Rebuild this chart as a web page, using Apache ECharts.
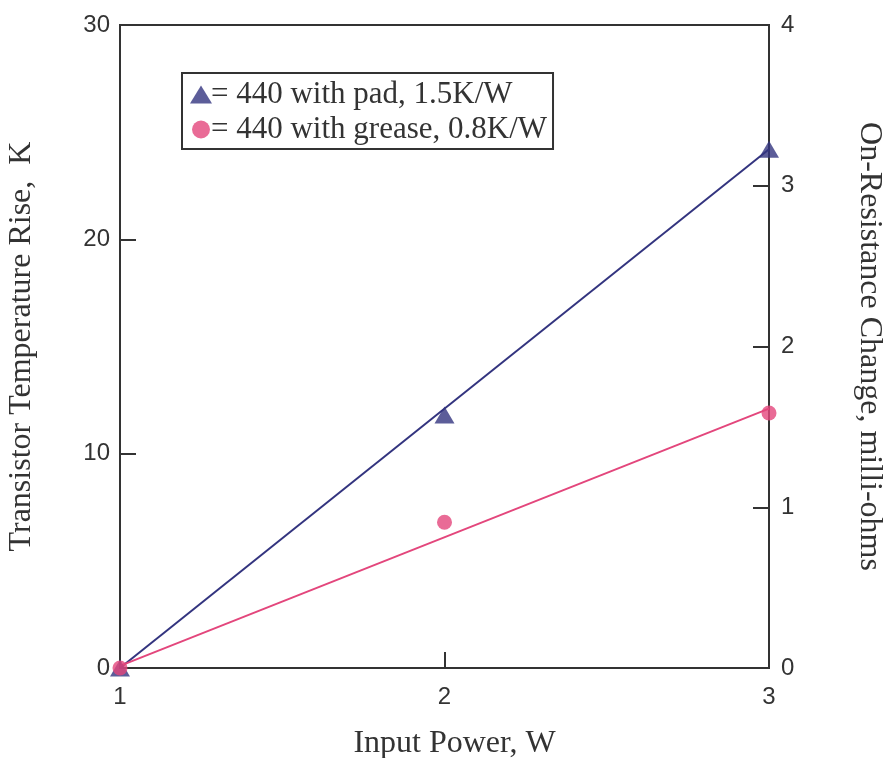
<!DOCTYPE html>
<html>
<head>
<meta charset="utf-8">
<script src="https://cdn.jsdelivr.net/npm/echarts@6/dist/echarts.min.js"></script>
<style>
  html, body { margin: 0; padding: 0; background: #fff; }
  #chart { width: 885px; height: 758px; }
</style>
</head>
<body>
<div id="chart"></div>
<script>
// input power, W
const power = [1, 2, 3];
// measured temperature rise, K
const padRise = [0, 11.8, 24.2];
const greaseRise = [0, 6.8, 11.9];
// fitted straight lines (end points)
const padFitX = [1, 3];
const padFitY = [0, 24.2];
const greaseFitX = [1, 3];
const greaseFitY = [0.1, 12.1];

const padColor = '#33347f';
const greaseColor = '#e3467c';

const chart = echarts.init(document.getElementById('chart'));

const option = {
  animation: false,
  grid: {
    left: 120, right: 116, top: 25, bottom: 90,
    outerBoundsMode: 'none', containLabel: false,
    show: true, borderColor: '#333', borderWidth: 2
  },
  legend: {
    orient: 'vertical',
    left: 182, top: 73,
    padding: [6, 6, 4, 8],
    itemGap: 4,
    itemWidth: 22, itemHeight: 18,
    borderColor: '#333', borderWidth: 2,
    textStyle: { fontFamily: 'Liberation Serif', fontSize: 31, color: '#333', padding: [0, 0, 0, -6] },
    formatter: name => '= ' + name,
    data: [
      { name: '440 with pad, 1.5K/W', icon: 'triangle' },
      { name: '440 with grease, 0.8K/W', icon: 'circle' }
    ]
  },
  xAxis: {
    type: 'value', min: 1, max: 3, interval: 1,
    name: 'Input Power, W', nameLocation: 'middle', nameGap: 60,
    nameTextStyle: { fontFamily: 'Liberation Serif', fontSize: 32, color: '#333', padding: [0, 0, 0, 20] },
    axisLine: { lineStyle: { color: '#333', width: 2 } },
    axisTick: { inside: true, length: 16, lineStyle: { color: '#333', width: 2 } },
    axisLabel: { fontFamily: 'Liberation Sans', fontSize: 24, color: '#333', margin: 17 },
    splitLine: { show: false }
  },
  yAxis: [
    {
      type: 'value', min: 0, max: 30, interval: 10,
      name: 'Transistor Temperature Rise,  K', nameLocation: 'middle', nameGap: 82,
      nameTextStyle: { fontFamily: 'Liberation Serif', fontSize: 32, color: '#333' },
      axisLine: { show: true, lineStyle: { color: '#333', width: 2 } },
      axisTick: { show: true, inside: true, length: 16, lineStyle: { color: '#333', width: 2 } },
      axisLabel: { fontFamily: 'Liberation Sans', fontSize: 24, color: '#333', margin: 10 },
      splitLine: { show: false }
    },
    {
      type: 'value', min: 0, max: 4, interval: 1, position: 'right',
      name: 'On-Resistance Change, milli-ohms', nameLocation: 'middle', nameGap: 84,
      nameRotate: -90,
      nameTextStyle: { fontFamily: 'Liberation Serif', fontSize: 32, color: '#333' },
      axisLine: { show: true, lineStyle: { color: '#333', width: 2 } },
      axisTick: { show: true, inside: true, length: 16, lineStyle: { color: '#333', width: 2 } },
      axisLabel: { fontFamily: 'Liberation Sans', fontSize: 24, color: '#333', margin: 12 },
      splitLine: { show: false }
    }
  ],
  series: [
    {
      name: 'padFit', type: 'line', symbol: 'none', silent: true,
      data: padFitX.map((x, i) => [x, padFitY[i]]),
      lineStyle: { color: padColor, width: 2 }, z: 2
    },
    {
      name: 'greaseFit', type: 'line', symbol: 'none', silent: true,
      data: greaseFitX.map((x, i) => [x, greaseFitY[i]]),
      lineStyle: { color: greaseColor, width: 2 }, z: 2
    },
    {
      name: '440 with pad, 1.5K/W', type: 'scatter', symbol: 'triangle', symbolSize: [20, 17],
      data: power.map((x, i) => [x, padRise[i]]),
      itemStyle: { color: padColor }, z: 3
    },
    {
      name: '440 with grease, 0.8K/W', type: 'scatter', symbol: 'circle', symbolSize: 15,
      data: power.map((x, i) => [x, greaseRise[i]]),
      itemStyle: { color: greaseColor }, z: 4
    }
  ]
};

chart.setOption(option);
</script>
</body>
</html>
